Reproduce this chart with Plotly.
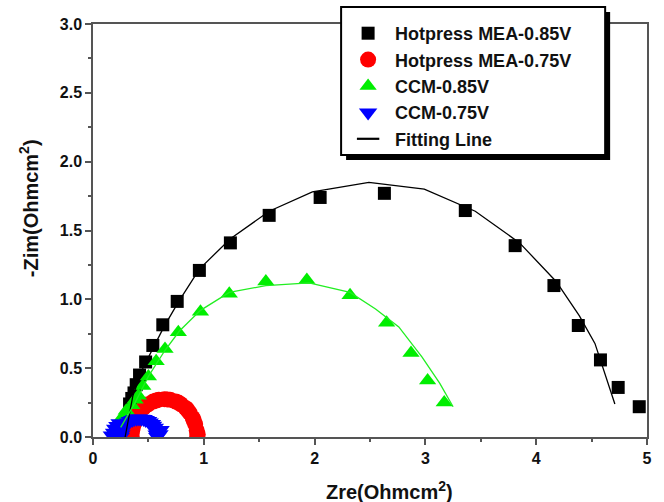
import plotly.graph_objects as go

# ---- data ----
hp085_x = [0.33, 0.35, 0.37, 0.39, 0.42, 0.475, 0.54, 0.63, 0.76, 0.96, 1.24, 1.59, 2.05, 2.63, 3.36, 3.81, 4.16, 4.38, 4.58, 4.74, 4.93]
hp085_y = [0.24, 0.28, 0.32, 0.38, 0.45, 0.545, 0.665, 0.815, 0.985, 1.21, 1.41, 1.61, 1.74, 1.77, 1.645, 1.39, 1.10, 0.81, 0.56, 0.36, 0.22]

hp075_x = [0.35, 0.354, 0.368, 0.390, 0.419, 0.455, 0.498, 0.544, 0.594, 0.645, 0.696, 0.746, 0.793, 0.835, 0.871, 0.900, 0.922, 0.936, 0.940,
           0.345, 0.36, 0.40, 0.47, 0.57, 0.67, 0.77, 0.85, 0.91, 0.945]
hp075_y = [0.00, 0.048, 0.094, 0.138, 0.177, 0.211, 0.238, 0.258, 0.271, 0.275, 0.271, 0.258, 0.238, 0.211, 0.177, 0.138, 0.094, 0.048, 0.00,
           0.025, 0.07, 0.16, 0.225, 0.265, 0.273, 0.25, 0.20, 0.12, 0.02]

ccm085_x = [0.27, 0.30, 0.35, 0.38, 0.41, 0.45, 0.50, 0.57, 0.65, 0.77, 0.97, 1.23, 1.56, 1.93, 2.32, 2.65, 2.87, 3.02, 3.17]
ccm085_y = [0.15, 0.19, 0.23, 0.27, 0.30, 0.37, 0.44, 0.55, 0.64, 0.76, 0.91, 1.04, 1.13, 1.14, 1.03, 0.83, 0.61, 0.41, 0.25]

ccm075_x = [0.17, 0.19, 0.20, 0.21, 0.22, 0.24, 0.25, 0.256, 0.256, 0.267, 0.272, 0.288, 0.298, 0.318, 0.333, 0.354, 0.373,
            0.394, 0.415, 0.436, 0.457, 0.476, 0.497, 0.512, 0.532, 0.542, 0.558, 0.563, 0.574, 0.575, 0.58, 0.60, 0.61]
ccm075_y = [0.01, 0.03, 0.06, 0.01, 0.08, 0.10, 0.00, 0.018, 0.035, 0.051, 0.067, 0.082, 0.095, 0.106, 0.117, 0.124, 0.130,
            0.133, 0.134, 0.133, 0.130, 0.124, 0.117, 0.106, 0.095, 0.082, 0.067, 0.051, 0.018, 0.035, 0.00, 0.02, 0.05]

fit_hp_x = [0.29, 0.36, 0.45, 0.55, 0.64, 0.77, 0.96, 1.24, 1.59, 1.98, 2.49, 2.99, 3.45, 3.85, 4.18, 4.39, 4.53, 4.71]
fit_hp_y = [0.00, 0.30, 0.50, 0.66, 0.80, 0.98, 1.22, 1.44, 1.64, 1.78, 1.85, 1.80, 1.64, 1.41, 1.13, 0.88, 0.68, 0.24]

fit_ccm_x = [0.25, 0.38, 0.50, 0.65, 0.78, 0.97, 1.23, 1.56, 1.95, 2.32, 2.55, 2.76, 2.97, 3.13, 3.25]
fit_ccm_y = [0.07, 0.25, 0.44, 0.63, 0.77, 0.92, 1.05, 1.10, 1.12, 1.05, 0.93, 0.80, 0.58, 0.39, 0.22]

x_ticks = [0, 1, 2, 3, 4, 5]
y_ticks = [0.0, 0.5, 1.0, 1.5, 2.0, 2.5, 3.0]

FONT = "Liberation Sans"

fig = go.Figure()
fig.add_trace(go.Scatter(x=hp085_x, y=hp085_y, mode="markers", name="Hotpress MEA-0.85V", legendrank=1,
                         marker=dict(symbol="square", size=13, color="#000000", line=dict(width=0))))
fig.add_trace(go.Scatter(x=hp075_x, y=hp075_y, mode="markers", name="Hotpress MEA-0.75V", legendrank=2,
                         marker=dict(symbol="circle", size=16, color="#ff0000", line=dict(width=0))))
fig.add_trace(go.Scatter(x=ccm085_x, y=ccm085_y, mode="markers", name="CCM-0.85V", legendrank=3,
                         marker=dict(symbol="triangle-up", size=15, color="#00ee00", line=dict(width=0))))
fig.add_trace(go.Scatter(x=ccm075_x, y=ccm075_y, mode="markers", name="CCM-0.75V", legendrank=4,
                         marker=dict(symbol="triangle-down", size=16, color="#0000ff", line=dict(width=0))))
fig.add_trace(go.Scatter(x=fit_hp_x, y=fit_hp_y, mode="lines", showlegend=False,
                         line=dict(color="#000000", width=1.3)))
fig.add_trace(go.Scatter(x=fit_ccm_x, y=fit_ccm_y, mode="lines", showlegend=False,
                         line=dict(color="#22ee22", width=1.3)))
# legend-only entry for the fitting line (short dash symbol, like the reference legend)
fig.add_trace(go.Scatter(x=[None], y=[None], mode="markers", name="Fitting Line", legendrank=5,
                         marker=dict(symbol="line-ew", size=18, color="#000000",
                                     line=dict(color="#000000", width=2.2))))

axis_common = dict(showline=True, mirror=True, linecolor="#555555", linewidth=1.5,
                   ticks="outside", ticklen=6, tickwidth=1.5, tickcolor="#555555",
                   showgrid=False, zeroline=False,
                   tickfont=dict(family=FONT, size=16, color="#111111", weight="bold"))

fig.update_xaxes(range=[0, 5], tickvals=x_ticks, ticktext=[str(v) for v in x_ticks],
                 minor=dict(ticks="outside", ticklen=3, tickwidth=1.5, tickcolor="#555555", dtick=0.5, tick0=0),
                 **axis_common)
fig.update_yaxes(range=[0, 3], tickvals=y_ticks, ticktext=[f"{v:.1f}" for v in y_ticks],
                 minor=dict(ticks="outside", ticklen=3, tickwidth=1.5, tickcolor="#555555", dtick=0.25, tick0=0),
                 **axis_common)

W, H = 664, 502
L, R, T, B = 93, 15, 24, 65
pw, ph = W - L - R, H - T - B

def px(xp):
    return (xp - L) / pw

def py(yp):
    return (H - B - yp) / ph

# legend box + shadow
fig.add_shape(type="rect", xref="paper", yref="paper", x0=px(347), x1=px(612), y0=py(160), y1=py(12),
              fillcolor="#000000", line=dict(width=0), layer="above")
fig.add_shape(type="rect", xref="paper", yref="paper", x0=px(342), x1=px(607), y0=py(155), y1=py(7),
              fillcolor="#ffffff", line=dict(color="#000000", width=2), layer="above")

fig.add_annotation(text="Zre(Ohmcm<sup>2</sup>)", xref="paper", yref="paper", x=px(391), y=py(490),
                   showarrow=False, xanchor="center", yanchor="middle",
                   font=dict(family=FONT, size=20, color="#111111", weight="bold"))
fig.add_annotation(text="-Zim(Ohmcm<sup>2</sup>)", xref="paper", yref="paper", x=px(28), y=py(208),
                   showarrow=False, xanchor="center", yanchor="middle", textangle=-90,
                   font=dict(family=FONT, size=20, color="#111111", weight="bold"))

fig.update_layout(
    width=W, height=H,
    margin=dict(l=L, r=R, t=T, b=B),
    paper_bgcolor="#ffffff", plot_bgcolor="#ffffff",
    showlegend=True,
    legend=dict(x=px(342), y=py(15), xanchor="left", yanchor="top",
                bgcolor="rgba(0,0,0,0)", borderwidth=0, itemwidth=44,
                font=dict(family=FONT, size=18, color="#111111", weight="bold"),
                tracegroupgap=0),
)

fig.write_html("out.html")
